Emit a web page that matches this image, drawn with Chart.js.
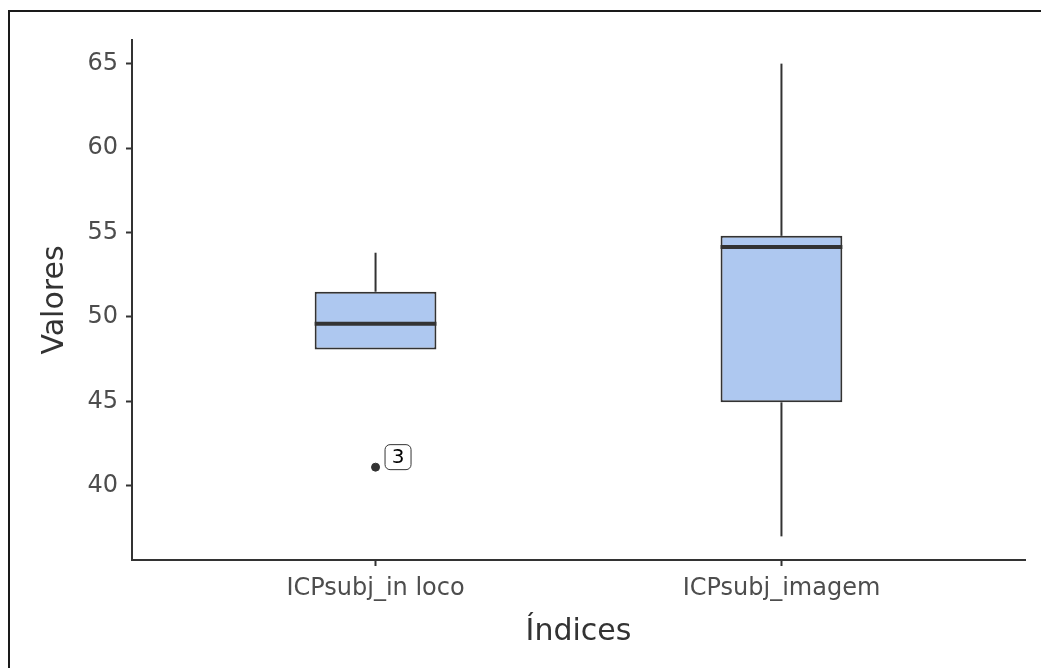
<!DOCTYPE html>
<html>
<head>
<meta charset="utf-8">
<script src="https://cdn.jsdelivr.net/npm/chart.js@4/dist/chart.umd.min.js"></script>
<style>
  html, body { margin: 0; padding: 0; background: #fff; overflow: hidden; }
  #wrap { position: relative; width: 1041px; height: 668px; }
  #frame { position: absolute; left: 8px; top: 10px; width: 2000px; height: 2000px;
           border-top: 2px solid #1a1a1a; border-left: 2px solid #1a1a1a; pointer-events: none; }
</style>
</head>
<body>
<div id="wrap">
  <canvas id="c" width="1041" height="668"></canvas>
  <div id="frame"></div>
</div>
<script>
// Boxplot summary per index
const categories = ['ICPsubj_in loco', 'ICPsubj_imagem'];
const whiskerLow  = [48.07, 37.0];
const q1          = [48.07, 44.94];
const medians     = [49.6, 54.14];
const q3          = [51.49, 54.8];
const whiskerHigh = [53.8, 65.0];
// Outliers: category position, value, label
const outlierCat    = [1];
const outlierValues = [41.1];
const outlierLabels = ['3'];
const yTicks = [40, 45, 50, 55, 60, 65];

const INK = '#333333';
const FILL = '#aec8f0';
const HALF_BOX = 0.15;
const FONT = 'DejaVu Sans';

const datasets = [];
// boxes (floating bars from Q1 to Q3)
datasets.push({
  type: 'bar',
  data: categories.map((c, i) => ({ x: i + 1, y: [q1[i], q3[i]] })),
  backgroundColor: FILL,
  borderColor: INK,
  borderWidth: 2,
  borderSkipped: false,
  barPercentage: 0.3,
  categoryPercentage: 1,
  order: 2
});
// whiskers and medians
categories.forEach((c, i) => {
  datasets.push({
    type: 'line',
    data: [{ x: i + 1, y: q3[i] }, { x: i + 1, y: whiskerHigh[i] }],
    borderColor: INK, borderWidth: 2, pointRadius: 0, order: 3
  });
  datasets.push({
    type: 'line',
    data: [{ x: i + 1, y: whiskerLow[i] }, { x: i + 1, y: q1[i] }],
    borderColor: INK, borderWidth: 2, pointRadius: 0, order: 3
  });
  datasets.push({
    type: 'line',
    data: [{ x: i + 1 - HALF_BOX, y: medians[i] }, { x: i + 1 + HALF_BOX, y: medians[i] }],
    borderColor: INK, borderWidth: 4, pointRadius: 0, order: 1
  });
});
// outliers
datasets.push({
  type: 'scatter',
  data: outlierValues.map((v, i) => ({ x: outlierCat[i], y: v })),
  backgroundColor: INK, borderColor: INK, pointRadius: 4, order: 0,
  outlierLabels: outlierLabels
});

// rounded label boxes next to outlier points
const outlierLabelPlugin = {
  id: 'outlierLabel',
  afterDatasetsDraw(chart) {
    const ctx = chart.ctx;
    const dsIndex = chart.data.datasets.length - 1;
    const meta = chart.getDatasetMeta(dsIndex);
    const labels = chart.data.datasets[dsIndex].outlierLabels;
    meta.data.forEach((pt, i) => {
      const x = pt.x + 9, y = pt.y - 23, w = 26, h = 25, r = 5;
      ctx.save();
      ctx.fillStyle = '#fff';
      ctx.strokeStyle = INK;
      ctx.lineWidth = 1;
      ctx.beginPath();
      ctx.roundRect(x + 0.5, y + 0.5, w, h, r);
      ctx.fill();
      ctx.stroke();
      ctx.fillStyle = '#000';
      ctx.font = '20px "' + FONT + '"';
      ctx.textAlign = 'center';
      ctx.textBaseline = 'middle';
      ctx.fillText(labels[i], x + w / 2 + 0.5, y + h / 2 + 1);
      ctx.restore();
    });
  }
};

new Chart(document.getElementById('c'), {
  data: { datasets },
  options: {
    responsive: false,
    animation: false,
    layout: { padding: { left: 0, top: 40, right: 16, bottom: 0 } },
    plugins: { legend: { display: false }, tooltip: { enabled: false } },
    scales: {
      x: {
        type: 'linear',
        offset: false,
        min: 0.4, max: 2.6,
        afterBuildTicks: s => { s.ticks = categories.map((c, i) => ({ value: i + 1 })); },
        afterFit: s => { s.height = 108; },
        ticks: {
          callback: v => categories[v - 1],
          color: '#4d4d4d',
          font: { family: FONT, size: 24 },
          padding: 8
        },
        grid: { offset: false, drawOnChartArea: false, drawTicks: true, tickLength: 6, tickWidth: 2, tickColor: INK },
        border: { display: true, color: INK, width: 2 },
        title: { display: true, text: 'Índices', color: '#333333',
                 font: { family: FONT, size: 30 }, padding: { top: 0, bottom: 18 } }
      },
      y: {
        type: 'linear',
        min: 35.6, max: 66.4,
        afterBuildTicks: s => { s.ticks = yTicks.map(v => ({ value: v })); },
        afterFit: s => { s.width = 132; },
        ticks: {
          color: '#4d4d4d',
          font: { family: FONT, size: 24 },
          padding: 8
        },
        grid: { drawOnChartArea: false, drawTicks: true, tickLength: 6, tickWidth: 2, tickColor: INK },
        border: { display: true, color: INK, width: 2 },
        title: { display: true, text: 'Valores', color: '#333333',
                 font: { family: FONT, size: 30 }, padding: { top: 37, bottom: 0 } }
      }
    }
  },
  plugins: [outlierLabelPlugin]
});
</script>
</body>
</html>
